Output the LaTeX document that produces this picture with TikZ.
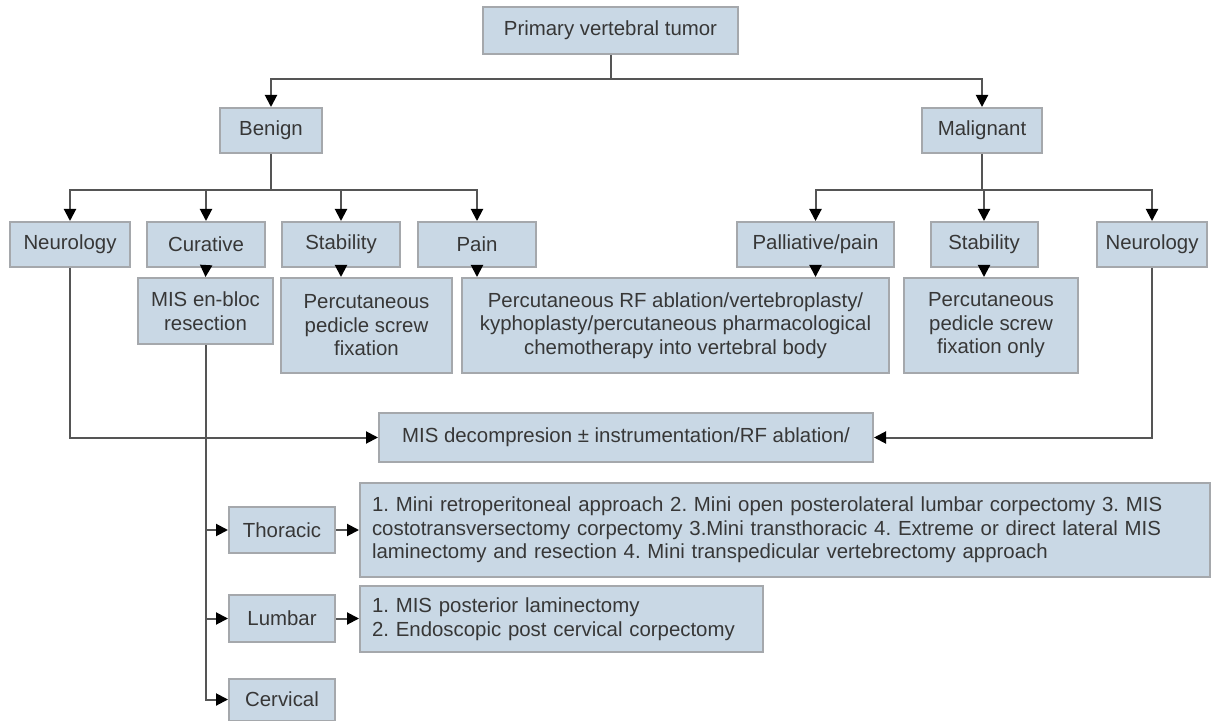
\documentclass[tikz,border=0pt]{standalone}
\usepackage{fontspec}
\setmainfont{Liberation Sans}
\frenchspacing
\definecolor{boxfill}{RGB}{201, 216, 229}
\definecolor{boxedge}{RGB}{165, 168, 172}
\definecolor{linegray}{RGB}{85, 85, 85}
\definecolor{textgray}{RGB}{55, 55, 55}
\usepackage{tikz}
\usetikzlibrary{arrows.meta, positioning, calc}

\begin{document}
\begin{tikzpicture}[
  x=0.5pt, y=-0.5pt,
  flowbox/.style={draw=boxedge, line width=1pt, fill=boxfill, inner sep=3pt, align=center, text=textgray, font=\fontsize{10.2}{11.75}\selectfont},
  descbox/.style={flowbox, align=left, inner xsep=6pt},
  arr/.style={draw=linegray, line width=1pt, -{Triangle[length=6pt, width=6pt, black]}},
  trunk/.style={draw=linegray, line width=1pt}
]
  \useasboundingbox[fill=white] (0,0) rectangle (1213,721);

  % top levels
  \node[flowbox, minimum width=127.5pt, minimum height=23.5pt] (root) at (610.5, 30.5) {Primary vertebral tumor};
  \node[flowbox, minimum width=51pt, minimum height=22.5pt] (benign) at (271, 130.5) {Benign};
  \node[flowbox, minimum width=60pt, minimum height=22.5pt] (malig) at (982, 130.5) {Malignant};

  % aims
  \node[flowbox, minimum width=60pt, minimum height=22.5pt] (neurol) at (70, 244.5) {Neurology};
  \node[flowbox, minimum width=59pt, minimum height=22.5pt] (cur) at (206, 244.5) {Curative};
  \node[flowbox, minimum width=59pt, minimum height=22.5pt] (stabl) at (341, 244.5) {Stability};
  \node[flowbox, minimum width=59pt, minimum height=22.5pt] (pain) at (477, 244.5) {Pain};
  \node[flowbox, minimum width=78.5pt, minimum height=22.5pt] (pall) at (815.5, 244.5) {Palliative/pain};
  \node[flowbox, minimum width=53.5pt, minimum height=22.5pt] (stabr) at (984, 244.5) {Stability};
  \node[flowbox, minimum width=55pt, minimum height=22.5pt] (neuror) at (1152, 244.5) {Neurology};

  % procedures
  \node[flowbox, minimum width=67.5pt, minimum height=33pt] (enbloc) at (205.5, 311) {MIS en-bloc\\resection};
  \node[flowbox, minimum width=85.5pt, minimum height=47.5pt] (percl) at (366.5, 325.5) {Percutaneous\\pedicle screw\\fixation};
  \node[flowbox, minimum width=213.5pt, minimum height=47.5pt] (rfabl) at (675.5, 325.5) {Percutaneous RF ablation/vertebroplasty/\\kyphoplasty/percutaneous pharmacological\\chemotherapy into vertebral body};
  \node[flowbox, minimum width=87pt, minimum height=47.5pt] (percr) at (991, 325.5) {Percutaneous\\pedicle screw\\fixation only};
  \node[flowbox, minimum width=247pt, minimum height=24.5pt] (decomp) at (626, 437.5) {MIS decompresion ± instrumentation/RF ablation/};

  % levels
  \node[flowbox, minimum width=53pt, minimum height=23pt] (thor) at (282, 530) {Thoracic};
  \node[descbox, text width=413pt, minimum height=47pt] (thordesc) at (785, 530) {1. Mini retroperitoneal approach 2. Mini open posterolateral lumbar corpectomy 3. MIS\\costotransversectomy corpectomy 3.Mini transthoracic 4. Extreme or direct lateral MIS\\laminectomy and resection 4. Mini transpedicular vertebrectomy approach};
  \node[flowbox, minimum width=53pt, minimum height=23.5pt] (lumb) at (282, 618.5) {Lumbar};
  \node[descbox, text width=189.5pt, minimum height=33pt] (lumbdesc) at (561.5, 619) {1. MIS posterior laminectomy\\2. Endoscopic post cervical corpectomy};
  \node[flowbox, minimum width=53pt, minimum height=21pt] (cerv) at (282, 699.5) {Cervical};

  % connectors
  \draw[arr] (root.south) -- (root.south |- 0,79) -| (benign.north);
  \draw[arr] (root.south |- 0,79) -| (malig.north);
  \draw[trunk] (benign.south) -- (benign.south |- 0,190);
  \draw[arr] (benign.south |- 0,190) -| (neurol.north);
  \draw[arr] (benign.south |- 0,190) -| (cur.north);
  \draw[arr] (benign.south |- 0,190) -| (stabl.north);
  \draw[arr] (benign.south |- 0,190) -| (pain.north);
  \draw[trunk] (malig.south) -- (malig.south |- 0,190);
  \draw[arr] (malig.south |- 0,190) -| (pall.north);
  \draw[arr] (malig.south |- 0,190) -| (stabr.north);
  \draw[arr] (malig.south |- 0,190) -| (neuror.north);
  \draw[arr] (cur.south) -- (enbloc.north);
  \draw[arr] (stabl.south) -- (stabl.south |- percl.north);
  \draw[arr] (pain.south) -- (pain.south |- rfabl.north);
  \draw[arr] (pall.south) -- (pall.south |- rfabl.north);
  \draw[arr] (stabr.south) -- (stabr.south |- percr.north);
  \draw[arr] (neurol.south) |- (decomp.west);
  \draw[arr] (neuror.south) |- (decomp.east);
  \draw[arr] (enbloc.south) |- (cerv.west);
  \draw[arr] (enbloc.south |- thor.west) -- (thor.west);
  \draw[arr] (enbloc.south |- lumb.west) -- (lumb.west);
  \draw[arr] (thor.east) -- (thordesc.west |- thor.east);
  \draw[arr] (lumb.east) -- (lumbdesc.west |- lumb.east);
\end{tikzpicture}
\end{document}
